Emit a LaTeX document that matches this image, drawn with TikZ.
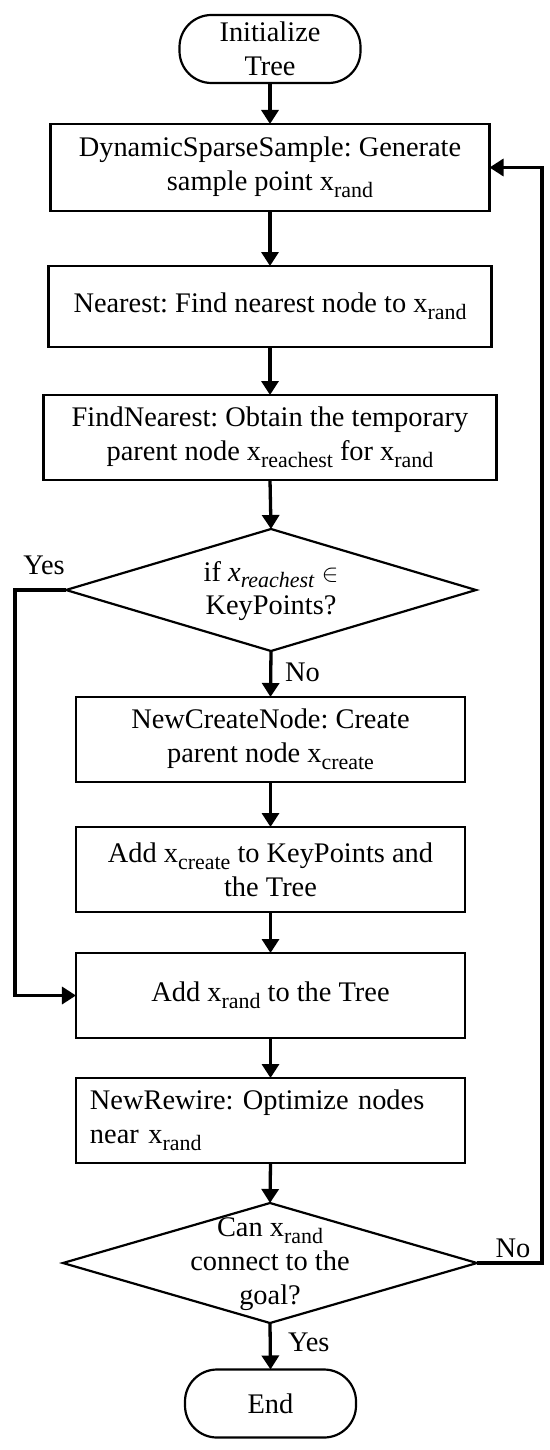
\documentclass[tikz,border=0pt]{standalone}
\usepackage{fontspec}
\setmainfont{Liberation Serif}
\usetikzlibrary{shapes.geometric,arrows.meta}
\newcommand{\mainfs}{\fontsize{28.5}{34}\selectfont\frenchspacing}
\tikzset{
  boxnode/.style={draw=black, line width=2.2bp, rectangle, inner sep=2bp, outer sep=0pt, align=center, font=\mainfs},
  termnode/.style={draw=black, line width=2.2bp, rectangle, rounded corners=32bp, minimum width=#1, minimum height=68bp, inner sep=0pt, outer sep=0pt, align=center, font=\mainfs},
  dianode/.style={draw=black, line width=2.2bp, diamond, inner sep=0pt, outer sep=0pt},
  txtnode/.style={inner sep=0pt, align=center, font=\mainfs},
  lblnode/.style={inner sep=0pt, font=\mainfs},
  conn/.style={line width=3.3bp, -{Triangle[length=14bp,width=17bp]}},
}
\newcommand{\subtx}[1]{\raisebox{-0.24em}{\fontsize{22}{22}\selectfont #1}}
\newcommand{\xs}[1]{x\subtx{#1}}
\begin{document}
\frenchspacing
\begin{tikzpicture}[x=1bp,y=-1bp]
\useasboundingbox (0,0) rectangle (550,1450);
% nodes
\node[termnode=181bp] (start) at (270,49) {Initialize\\Tree};
\node[boxnode, minimum width=439bp, minimum height=87bp] (dss) at (270,167.5) {DynamicSparseSample: Generate\\sample point \xs{rand}};
\node[boxnode, minimum width=443bp, minimum height=81bp] (near) at (270,306.5) {Nearest: Find nearest node to \xs{rand}};
\node[boxnode, minimum width=453bp, minimum height=85bp] (fn) at (270,437.5) {FindNearest: Obtain the temporary\\parent node \xs{reachest} for \xs{rand}};
\node[dianode, minimum width=410bp, minimum height=122bp] (d1) at (271,590) {};
\node[txtnode] (d1t) at (271,591) {if \textit{x}\subtx{\textit{reachest}} $\in$\\KeyPoints?};
\node[boxnode, minimum width=389bp, minimum height=85bp] (ncn) at (270.5,739.5) {NewCreateNode: Create\\parent node \xs{create}};
\node[boxnode, minimum width=389bp, minimum height=85bp] (addc) at (270.5,869.5) {Add \xs{create} to KeyPoints and\\the Tree};
\node[boxnode, minimum width=389bp, minimum height=85bp] (addr) at (270.5,995.5) {Add \xs{rand} to the Tree};
\node[boxnode, minimum width=389bp, minimum height=85bp, text width=361bp, align=left] (nr) at (270.5,1120.5) {NewRewire: Optimize nodes\\near \xs{rand}};
\node[dianode, minimum width=414bp, minimum height=120bp] (d2) at (270,1263) {};
\node[txtnode] (d2t) at (270,1264) {Can \xs{rand}\\connect to the\\goal?};
\node[termnode=171bp] (end) at (270.5,1403.5) {End};
% labels
\node[lblnode] (yes1) at (44,565) {Yes};
\node[lblnode, anchor=west] (no1) at (285,672) {No};
\node[lblnode] (no2) at (513,1248) {No};
\node[lblnode, anchor=west] (yes2) at (288,1342) {Yes};
% helper coordinates
\coordinate (lx) at (15,0);
\coordinate (rx) at (542,0);
% connectors
\draw[conn] (start) -- (dss);
\draw[conn] (dss) -- (near);
\draw[conn] (near) -- (fn);
\draw[conn] (fn.south) -- (d1.north);
\draw[conn] (d1.south) -- (ncn.north);
\draw[conn] (ncn) -- (addc);
\draw[conn] (addc) -- (addr);
\draw[conn] (addr) -- (nr);
\draw[conn] (nr.south) -- (d2.north);
\draw[conn] (d2.south) -- (end.north);
\draw[conn] (d1.west) -- (d1.west -| lx) |- (addr.west);
\draw[conn] (d2.east) -- (d2.east -| rx) |- (dss.east);
\end{tikzpicture}
\end{document}
